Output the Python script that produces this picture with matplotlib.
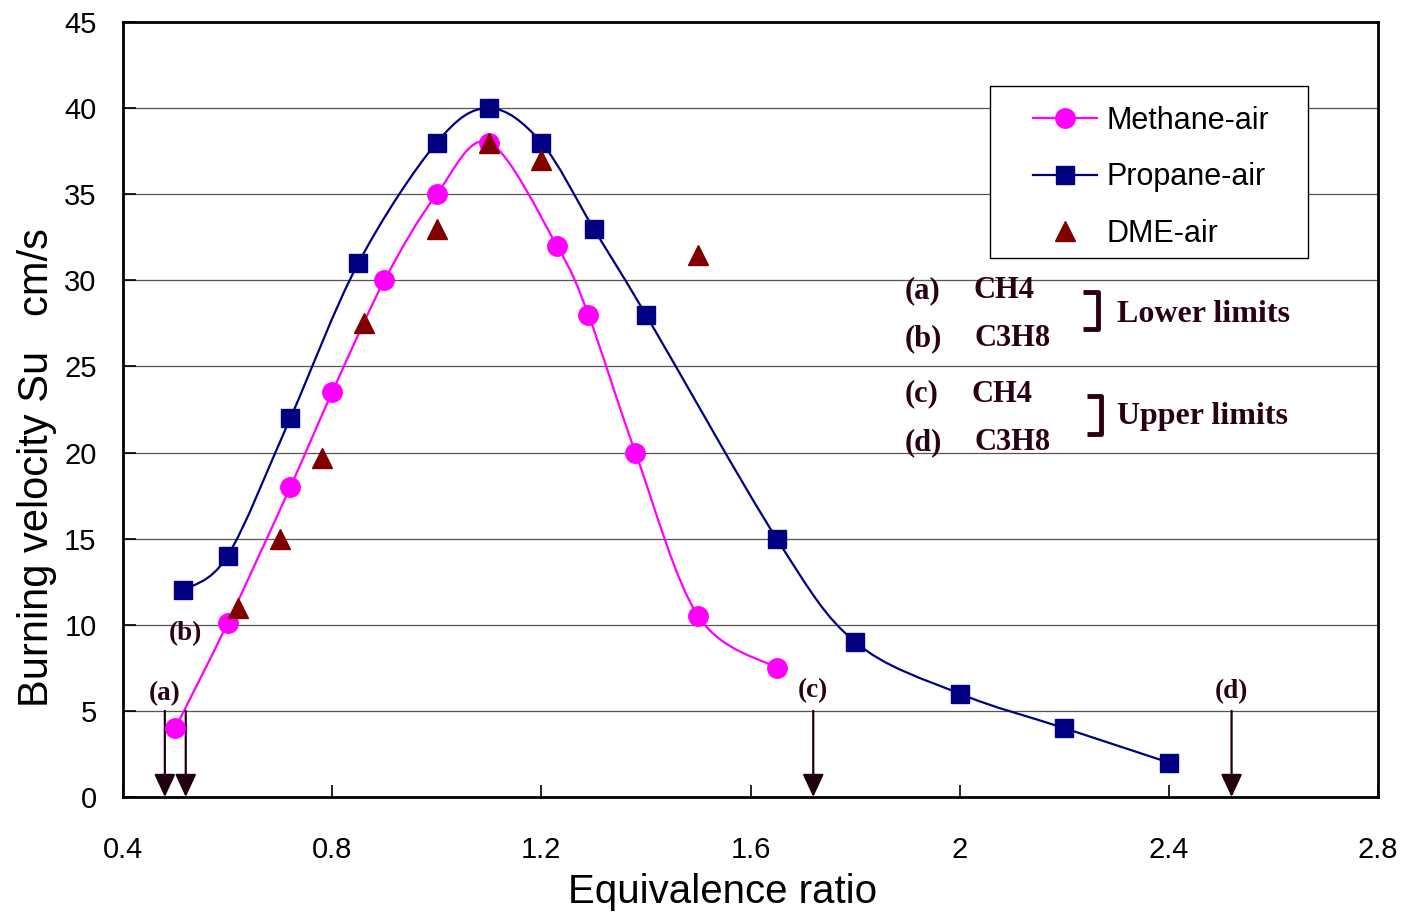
import matplotlib
matplotlib.use('Agg')
import matplotlib.pyplot as plt
from matplotlib.path import Path
from matplotlib.patches import PathPatch, Rectangle
import numpy as np

# data
methane_x = [0.50, 0.60, 0.72, 0.80, 0.90, 1.00, 1.10, 1.23, 1.29, 1.38, 1.50, 1.65]
methane_y = [4.0, 10.1, 18.0, 23.5, 30.0, 35.0, 38.0, 32.0, 28.0, 20.0, 10.5, 7.5]

propane_x = [0.515, 0.60, 0.72, 0.85, 1.00, 1.10, 1.20, 1.30, 1.40, 1.65, 1.80, 2.00, 2.20, 2.40]
propane_y = [12.0, 14.0, 22.0, 31.0, 38.0, 40.0, 38.0, 33.0, 28.0, 15.0, 9.0, 6.0, 4.0, 2.0]

dme_x = [0.62, 0.70, 0.78, 0.86, 1.00, 1.10, 1.20, 1.50]
dme_y = [11.0, 15.0, 19.7, 27.5, 33.0, 38.0, 37.0, 31.5]

limit_labels = ['(a)', '(b)', '(c)', '(d)']
limit_x = [0.48, 0.52, 1.72, 2.52]
limit_label_y = [6.0, 9.5, 6.2, 6.1]

xticks = [0.4, 0.8, 1.2, 1.6, 2.0, 2.4, 2.8]
xtick_labels = ['0.4', '0.8', '1.2', '1.6', '2', '2.4', '2.8']
yticks = [0, 5, 10, 15, 20, 25, 30, 35, 40, 45]


# Excel 스타일 곡선 (Catmull-Rom -> Bezier)
def smooth_path(xs, ys):
    p = np.column_stack([xs, ys]).astype(float)
    n = len(p)
    verts = [p[0]]
    codes = [Path.MOVETO]
    for i in range(n - 1):
        p0 = p[i - 1] if i > 0 else p[i]
        p3 = p[i + 2] if i + 2 < n else p[i + 1]
        c1 = p[i] + (p[i + 1] - p0) / 6.0
        c2 = p[i + 1] - (p3 - p[i]) / 6.0
        verts += [c1, c2, p[i + 1]]
        codes += [Path.CURVE4] * 3
    return Path(verts, codes)


text_col = '#2a0015'
serif = ['Liberation Serif', 'DejaVu Serif']
sans = ['Liberation Sans', 'DejaVu Sans']

fig = plt.figure(figsize=(14.04, 9.19), dpi=100)
ax = fig.add_axes([123 / 1404, 1 - 797 / 919, (1378 - 123) / 1404, (797 - 22) / 919])

ax.set_xlim(0.4, 2.8)
ax.set_ylim(0, 45)
for y in yticks[1:-1]:
    ax.axhline(y, color='#555555', lw=0.9, zorder=1)

ax.add_patch(PathPatch(smooth_path(methane_x, methane_y), fill=False, edgecolor='#FF00FF', lw=1.6, zorder=2))
ax.add_patch(PathPatch(smooth_path(propane_x, propane_y), fill=False, edgecolor='#000080', lw=1.6, zorder=2))

ax.plot(methane_x, methane_y, ls='none', marker='o', ms=14, color='#FF00FF', zorder=4)
ax.plot(propane_x, propane_y, ls='none', marker='s', ms=13.5, color='#000080', zorder=4)
ax.plot(dme_x, dme_y, ls='none', marker='^', ms=15, color='#800000', zorder=5)

# legend (frame drawn separately)
h1, = ax.plot([], [], '-o', color='#FF00FF', ms=14, lw=1.6, label='Methane-air')
h2, = ax.plot([], [], '-s', color='#000080', ms=13.5, lw=1.6, label='Propane-air')
h3, = ax.plot([], [], ls='none', marker='^', color='#800000', ms=15, label='DME-air')
ax.add_patch(Rectangle((0.6908, 0.6955), 0.2534, 0.2219, transform=ax.transAxes,
                       facecolor='white', edgecolor='black', lw=1.0, zorder=6))
leg = ax.legend(handles=[h1, h2, h3], loc='upper left', bbox_to_anchor=(0.7251, 0.892),
                fontsize=22, frameon=False, handlelength=2.1, labelspacing=0.87,
                borderpad=0, handletextpad=0.3, borderaxespad=0)
for t in leg.get_texts():
    t.set_family(sans)
leg.set_zorder(7)

# limit arrows
for lab, x, ly in zip(limit_labels, limit_x, limit_label_y):
    ax.annotate('', xy=(x, 0), xytext=(x, 5),
                arrowprops=dict(arrowstyle='-|>,head_length=1.4,head_width=0.65',
                                color='#200010', lw=1.6, shrinkA=0, shrinkB=0),
                zorder=3)
    ax.text(x, ly, lab, ha='center', va='center', fontsize=19.5, fontweight='bold',
            family=serif, color=text_col, zorder=6)

# notes on the right
notes = [('(a)', 'CH4', 29.4, 2.026), ('(b)', 'C3H8', 26.6, 2.029),
         ('(c)', 'CH4', 23.4, 2.022), ('(d)', 'C3H8', 20.6, 2.029)]
for lab, gas, y, gx in notes:
    ax.text(1.894, y, lab, ha='left', va='center', fontsize=22, fontweight='bold',
            family=serif, color=text_col)
    ax.text(gx, y, gas, ha='left', va='center', fontsize=22,
            fontweight='bold', family=serif, color=text_col)
ax.text(2.30, 28.0, 'Lower limits', ha='left', va='center', fontsize=23, fontweight='bold',
        family=serif, color=text_col)
ax.text(2.30, 22.1, 'Upper limits', ha='left', va='center', fontsize=23, fontweight='bold',
        family=serif, color=text_col)

# brackets
for xb, yt, yb in [(2.236, 29.3, 27.2), (2.243, 23.3, 21.1)]:
    ax.plot([xb, xb + 0.028, xb + 0.028, xb], [yt, yt, yb, yb], color=text_col, lw=3.5,
            solid_joinstyle='round', solid_capstyle='butt', zorder=6)

ax.set_xticks(xticks)
ax.set_xticklabels(xtick_labels)
ax.set_yticks(yticks)
ax.tick_params(axis='both', direction='in', length=9, width=1.2, labelsize=21)
ax.tick_params(axis='x', pad=28)
ax.tick_params(axis='y', pad=19)
for s in ax.spines.values():
    s.set_linewidth(2)
for lab in ax.get_xticklabels() + ax.get_yticklabels():
    lab.set_family(sans)

fig.text(723 / 1404, 1 - 892 / 919, 'Equivalence ratio', ha='center', va='center',
         fontsize=29, family=sans)
fig.text(37 / 1404, 1 - 468 / 919, 'Burning velocity Su   cm/s', rotation=90, ha='center',
         va='center', fontsize=30, family=sans)

fig.savefig('out.png', dpi=100)
